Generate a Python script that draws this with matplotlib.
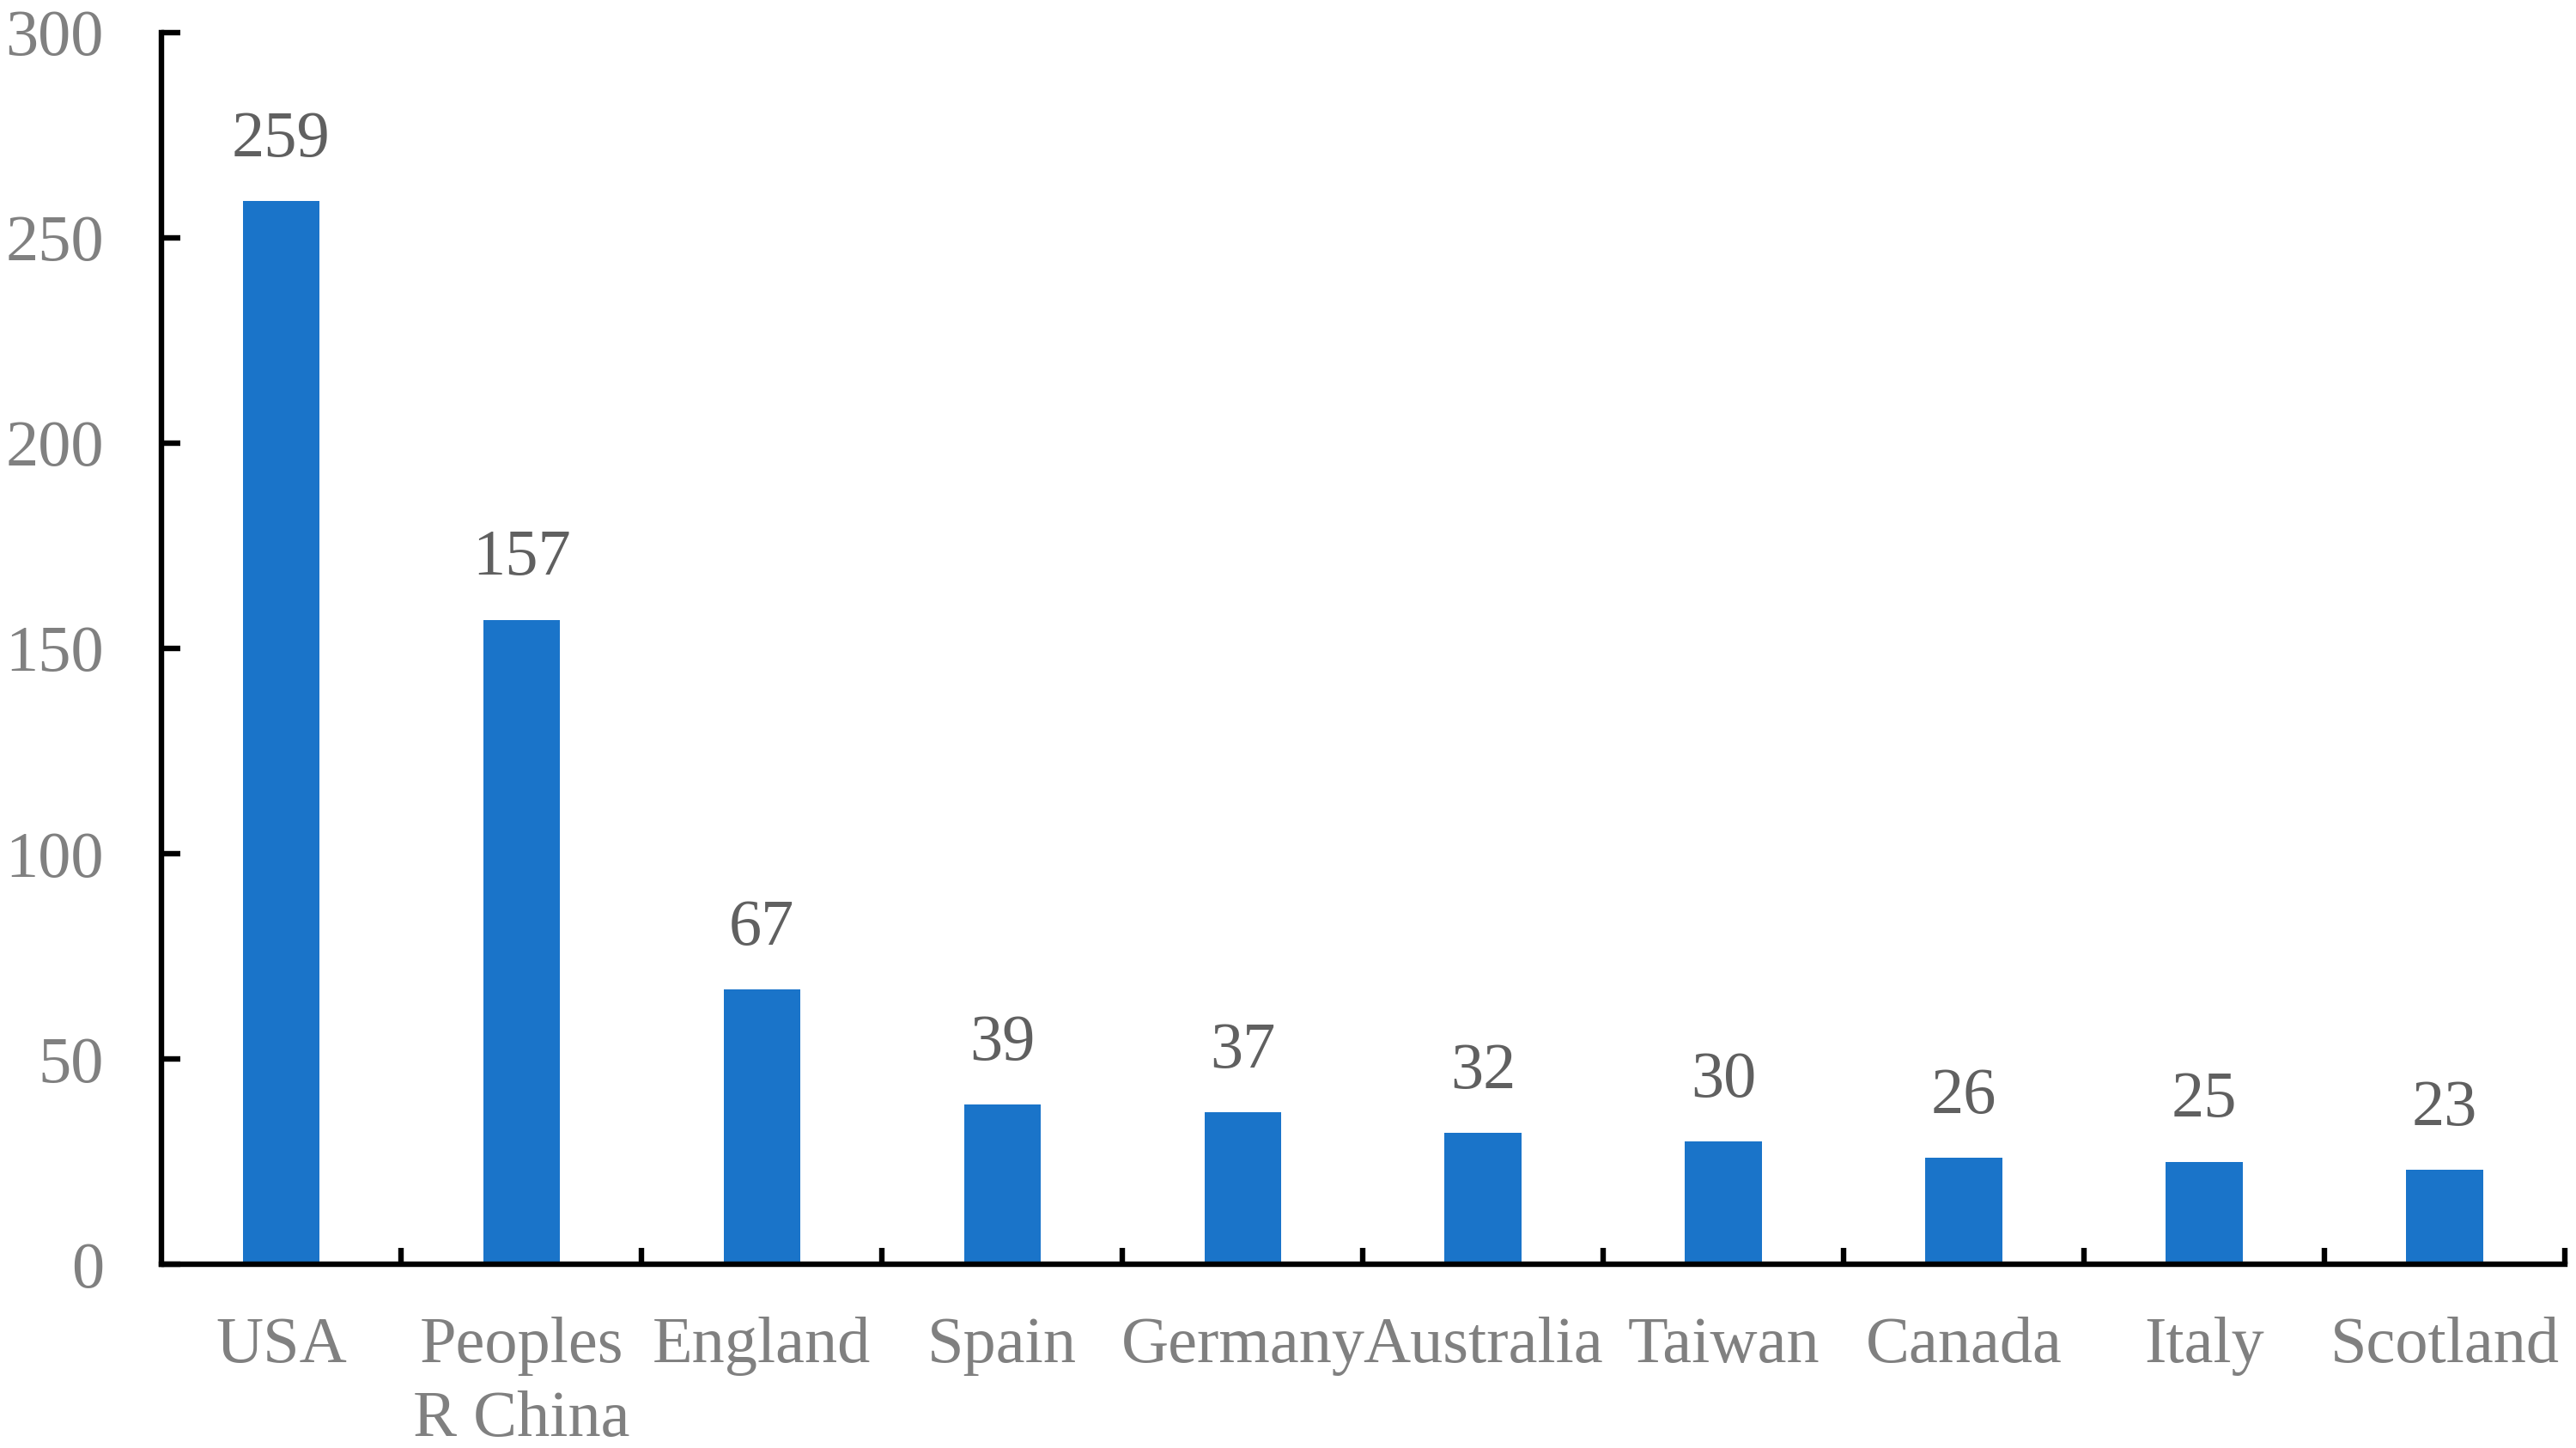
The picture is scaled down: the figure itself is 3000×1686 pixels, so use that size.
import matplotlib
matplotlib.use("Agg")
import matplotlib.pyplot as plt
import numpy as np

categories = ["USA", "Peoples\nR China", "England", "Spain", "Germany",
              "Australia", "Taiwan", "Canada", "Italy", "Scotland"]
values = [259, 157, 67, 39, 37, 32, 30, 26, 25, 23]
yticks = [0, 50, 100, 150, 200, 250, 300]

plt.rcParams['font.family'] = ['Liberation Serif', 'DejaVu Serif']

fig = plt.figure(figsize=(30, 16.86), dpi=100)
ax = fig.add_axes([0.0625, 0.1269, 0.9332, 0.8506])

x = np.arange(len(categories))
bars = ax.bar(x, values, width=0.32, color='#1A74C9', zorder=2)

for xi, v in zip(x, values):
    ax.annotate(str(v), (xi, v), xytext=(0, 26), textcoords='offset points',
                ha='center', va='bottom', fontsize=55, color='#606060')

ax.set_xlim(-0.5, len(categories) - 0.5)
ax.set_ylim(0, 300)
ax.set_yticks(yticks)
ax.set_yticklabels([str(t) for t in yticks])

ax.set_xticks(x)
ax.set_xticklabels(categories, linespacing=1.32)
ax.set_xticks(np.arange(0.5, len(categories), 1.0), minor=True)

for s in ['top', 'right']:
    ax.spines[s].set_visible(False)
for s in ['left', 'bottom']:
    ax.spines[s].set_linewidth(4.6)
    ax.spines[s].set_color('black')

ax.tick_params(axis='x', which='major', length=0, pad=44, labelsize=55,
               labelcolor='#808080')
ax.tick_params(axis='x', which='minor', direction='in', length=14, width=4.6,
               color='black')
ax.tick_params(axis='y', which='major', direction='in', length=16, width=4.6,
               pad=48, labelsize=55, labelcolor='#808080', color='black')

fig.savefig('out.png', dpi=100, facecolor='white')
